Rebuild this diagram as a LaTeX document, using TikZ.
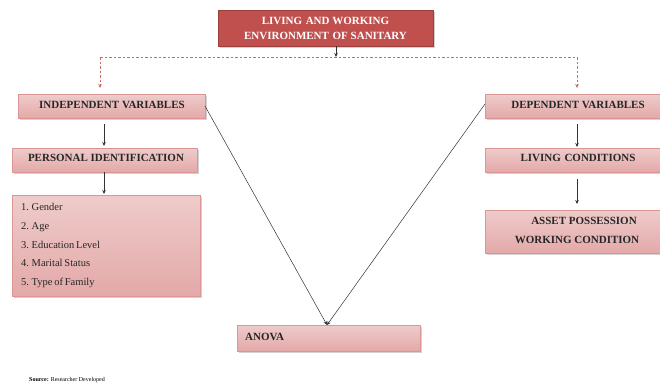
\documentclass[tikz,border=0pt]{standalone}
\usepackage{fontspec}
\setmainfont{Liberation Serif}
\usetikzlibrary{shadows,arrows.meta}
\definecolor{boxedge}{HTML}{D99694}
\definecolor{pinkA}{HTML}{F7ECEC}
\definecolor{pinkB}{HTML}{E3A9A8}
\definecolor{redA}{HTML}{C0504D}
\definecolor{redB}{HTML}{DC8E8C}
\newcommand\mytightsp{\spaceskip=0.17em plus 0.05em\relax}
\tikzset{
  pbox/.style={draw=boxedge, line width=0.6pt, top color=pinkB!60!white, middle color=pinkA, bottom color=pinkB,
    drop shadow={shadow xshift=1.5pt, shadow yshift=-1.5pt, fill=black!35, opacity=0.5}},
  redbox/.style={draw=redA!80!black, line width=0.6pt, top color=redA, middle color=redB, bottom color=redA,
    drop shadow={shadow xshift=1.5pt, shadow yshift=-1.5pt, fill=black!35, opacity=0.5}},
  btxt/.style={font=\fontsize{11}{13}\selectfont\bfseries, text=black!85},
  ltxt/.style={font=\fontsize{10.5}{18.8}\selectfont, text=black!85, align=left},
  ttxt/.style={font=\fontsize{11}{15}\selectfont\bfseries, text=white, align=center},
  arr/.style={-{Stealth[length=4pt,width=3.5pt]}, line width=0.5pt, black!80},
  dline/.style={dash pattern=on 2.5pt off 2pt, line width=0.6pt, redA!85},
  darr/.style={dline, -{Stealth[length=4pt,width=3.5pt]}},
}
\begin{document}
\begin{tikzpicture}[x=1pt,y=-1pt]
\useasboundingbox (0,0) rectangle (660,388);
% top box
\path[redbox] (218,10) rectangle (433,46);
\node[ttxt] (top) at (325.5,28) {LIVING\,\,AND WORKING\\ENVIRONMENT\,\,OF SANITARY};
\coordinate (topb) at (336,46);
\coordinate (dmid) at (336,57);
\coordinate (dl) at (100,57);
\coordinate (dr) at (577,57);
\draw[arr] (topb) -- (dmid);
\draw[dline] (dl) -- (dr);
% boxes
\path[pbox] (18,94) rectangle (205,118);
\node[btxt] (iv) at (112,104.5) {INDEPENDENT VARIABLES};
\path[pbox] (12,148) rectangle (197,172);
\node[btxt] (pi) at (106,158) {PERSONAL IDENTIFICATION};
\path[pbox] (12,195) rectangle (200,296);
\node[ltxt, anchor=north west, inner sep=0pt] (list) at (21,203) {\mytightsp 1. Gender\\\mytightsp 2. Age\\\mytightsp 3. Education Level\\\mytightsp 4. Marital Status\\\mytightsp 5. Type of Family};
\path[pbox] (485,94) rectangle (660,118);
\node[btxt] (dv) at (578,104.5) {DEPENDENT VARIABLES};
\path[pbox] (485,148) rectangle (660,172);
\node[btxt] (lc) at (578,158) {LIVING\,\,CONDITIONS};
\path[pbox] (485,210) rectangle (660,253);
\node[btxt] (ap) at (584,221) {ASSET POSSESSION};
\node[btxt] (wc) at (577,239.5) {WORKING CONDITION};
\path[pbox] (237,325) rectangle (420,351);
\node[btxt, anchor=west, inner sep=0pt] (an) at (245,337) {ANOVA};
% arrows
\coordinate (ivt) at (100,88);
\coordinate (dvt) at (577,88);
\draw[darr] (dl) -- (ivt);
\draw[darr] (dr) -- (dvt);
\coordinate (ivb) at (104,124);
\coordinate (pit) at (104,146);
\draw[arr] (ivb) -- (pit);
\coordinate (pib) at (104,172);
\coordinate (lt) at (104,194);
\draw[arr] (pib) -- (lt);
\coordinate (dvb) at (577,124);
\coordinate (lct) at (577,147);
\draw[arr] (dvb) -- (lct);
\coordinate (lcb) at (577,179);
\coordinate (apt) at (577,204);
\draw[arr] (lcb) -- (apt);
\coordinate (ivr) at (205,106);
\coordinate (dvl) at (485,104);
\coordinate (ant) at (327,325);
\draw[arr] (ivr) -- (ant);
\draw[arr] (dvl) -- (ant);
\node[font=\fontsize{6}{7}\selectfont, anchor=west, inner sep=0pt] (src) at (29,380) {\textbf{Source:} Researcher Developed};
\end{tikzpicture}
\end{document}
